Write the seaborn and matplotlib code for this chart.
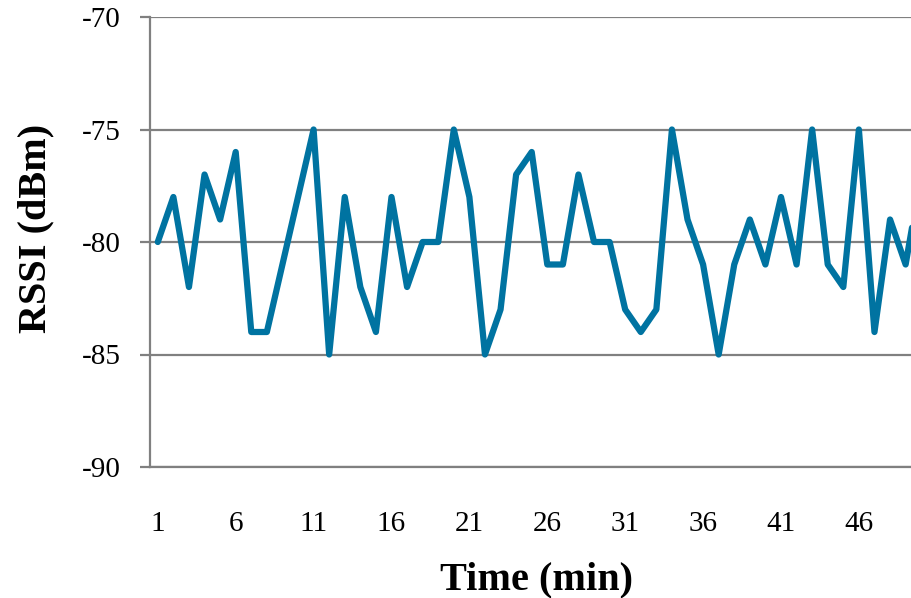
import matplotlib
matplotlib.use("Agg")
import matplotlib.pyplot as plt
import pandas as pd
import seaborn as sns

# RSSI readings, one per minute
minutes = list(range(1, 51))
rssi = [-80, -78, -82, -77, -79, -76, -84, -84, -81, -78,
        -75, -85, -78, -82, -84, -78, -82, -80, -80, -75,
        -78, -85, -83, -77, -76, -81, -81, -77, -80, -80,
        -83, -84, -83, -75, -79, -81, -85, -81, -79, -81,
        -78, -81, -75, -81, -82, -75, -84, -79, -81, -77]
x_ticks = [1, 6, 11, 16, 21, 26, 31, 36, 41, 46]
y_ticks = [-90, -85, -80, -75, -70]

df = pd.DataFrame({"Time": minutes, "RSSI": rssi})

LINE = "#0073A1"
GRID = "#808080"

sns.set_theme(style="white")
plt.rcParams["font.family"] = ["Liberation Serif", "DejaVu Serif"]

fig = plt.figure(figsize=(9.11, 5.98), dpi=100)
# the original plot area runs past the right edge of the picture
ax = fig.add_axes([150 / 911, 1 - 467 / 598, 779 / 911, 450 / 598])

sns.lineplot(data=df, x="Time", y="RSSI", color=LINE, linewidth=4.5, ax=ax)

ax.set_xlim(0.5, 50.5)
ax.set_ylim(-90, -70)
ax.set_xticks(x_ticks)
ax.set_yticks(y_ticks)
ax.set_xticklabels([str(t) for t in x_ticks])
ax.set_yticklabels([str(t) for t in y_ticks])

ax.yaxis.grid(True, color=GRID, linewidth=1.6)
ax.xaxis.grid(False)
ax.set_axisbelow(True)
for side in ["top", "right"]:
    ax.spines[side].set_visible(False)
for side in ["left", "bottom"]:
    ax.spines[side].set_color(GRID)
    ax.spines[side].set_linewidth(1.6)

ax.tick_params(axis="y", left=True, length=7, width=1.6, color=GRID,
               labelsize=21, pad=14, labelcolor="black")
ax.tick_params(axis="x", bottom=False, labelsize=21, pad=26, labelcolor="black")

ax.set_xlabel("")
ax.set_ylabel("")
fig.text(537 / 911, 1 - 580 / 598, "Time (min)", ha="center", va="center",
         fontsize=29, fontweight="bold", color="black")
fig.text(36 / 911, 1 - 228 / 598, "RSSI (dBm)", ha="center", va="center",
         rotation=90, fontsize=29, fontweight="bold", color="black")

fig.savefig("out.png", dpi=100)
